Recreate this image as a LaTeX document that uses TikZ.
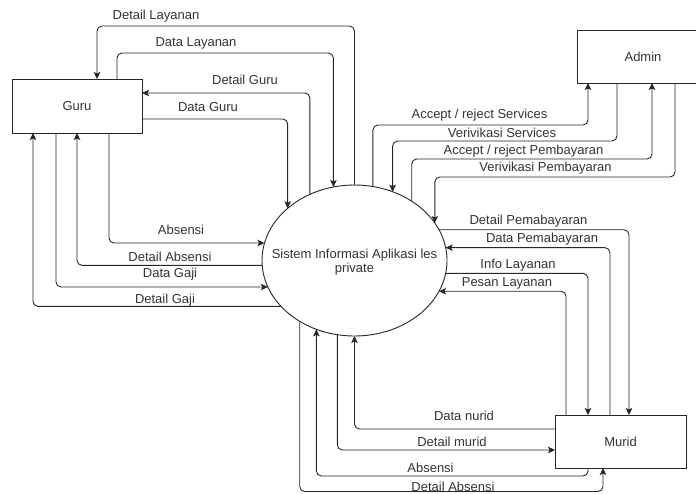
\documentclass[tikz,border=0pt]{standalone}
\usepackage{fontspec}
\setmainfont{Liberation Sans}
\usetikzlibrary{shapes.geometric,arrows.meta}
\definecolor{ink}{HTML}{262626}
\definecolor{txt}{HTML}{333333}
\tikzset{
  box/.style={draw=ink, line width=0.9pt, rectangle, inner sep=0pt, outer sep=0pt, text=txt},
  flow/.style={draw=ink, line width=0.9pt, rounded corners=5pt, -{Stealth[length=7pt,width=6.5pt,inset=1.5pt]}},
  plainflow/.style={draw=ink, line width=0.9pt, rounded corners=5pt},
  lbl/.style={text=txt, inner sep=0pt}
}
\begin{document}
\begin{tikzpicture}[x=1pt,y=-1pt,font=\fontsize{13pt}{14pt}\selectfont]
\fill[white] (0,0) rectangle (696,493);
\useasboundingbox (0,0) rectangle (696,493);
\clip (0,0) rectangle (696,493);

% entities
\node[box, minimum width=130pt, minimum height=54pt] (guru) at (77,106) {Guru};
\node[box, minimum width=132pt, minimum height=53pt] (admin) at (643,56.5) {Admin};
\node[box, minimum width=131pt, minimum height=53pt] (murid) at (620.5,441.5) {Murid};
\node[draw=ink, line width=0.9pt, ellipse, minimum width=185pt, minimum height=151pt, inner sep=0pt, outer sep=0pt] (sys) at (354.5,260.5) {};
\node[lbl, align=center] (systext) at (354.5,262) {Sistem Informasi Aplikasi les\\private};

% Guru flows
\draw[flow] (sys.90) |- (97,26) -- (guru.north -| 97,0);
\draw[flow] (guru.north -| 117,0) |- (sys.106 |- 0,53) -- (sys.106);
\draw[flow] (sys.124) |- (guru.east |- 0,93);
\draw[flow] (guru.east |- 0,119) -| (sys.142);
\draw[flow] (guru.south -| 109,0) |- (sys.169);
\draw[flow] (sys.183) -| (guru.south -| 77,0);
\draw[flow] (guru.south -| 56,0) |- (sys.197);
\draw[flow] (sys.212) -| (guru.south -| 33,0);

% Admin flows
\draw[flow] (sys.76) |- (588,125) -- (admin.south -| 588,0);
\draw[flow] (admin.south -| 617,0) |- (sys.61 |- 0,141) -- (sys.61);
\draw[flow] (sys.46) |- (652,159) -- (admin.south -| 652,0);
\draw[flow] (admin.south -| 675,0) |- (sys.25 |- 0,177) -- (sys.25);

% Murid flows (right)
\draw[flow] (sys.20) -| (murid.north -| 629,0);
\draw[flow] (murid.north -| 610,0) |- (sys.8);
\draw[flow] (sys.352) -| (murid.north -| 588,0);
\draw[flow] (murid.north -| 566,0) |- (sys.340);

% Murid flows (bottom)
\draw[flow] (murid.west |- 0,429) -| (sys.270);
\draw[flow] (sys.257) |- (murid.west |- 0,450);
\draw[flow] (murid.south -| 588,0) |- (sys.241 |- 0,476) -- (sys.241);
\draw[flow] (sys.228) |- (603,491.5) -- (murid.south -| 603,0);

% labels
\node[lbl] (l1) at (156,16) {Detail Layanan};
\node[lbl] (l2) at (196,43) {Data Layanan};
\node[lbl] (l3) at (245,80) {Detail Guru};
\node[lbl] (l4) at (208,107) {Data Guru};
\node[lbl] (l5) at (181,230) {Absensi};
\node[lbl] (l6) at (170,257) {Detail Absensi};
\node[lbl] (l7) at (170,274) {Data Gaji};
\node[lbl] (l8) at (165,300) {Detail Gaji};
\node[lbl] (l9) at (479.5,115) {Accept / reject Services};
\node[lbl] (l10) at (502,133) {Verivikasi Services};
\node[lbl] (l11) at (523.5,151) {Accept / reject Pembayaran};
\node[lbl] (l12) at (545.5,168) {Verivikasi Pembayaran};
\node[lbl] (l13) at (528.5,221) {Detail Pemabayaran};
\node[lbl] (l14) at (542,239) {Data Pemabayaran};
\node[lbl] (l15) at (518,265) {Info Layanan};
\node[lbl] (l16) at (507,283) {Pesan Layanan};
\node[lbl] (l17) at (464,416) {Data nurid};
\node[lbl] (l18) at (452,442) {Detail murid};
\node[lbl] (l19) at (430.5,468) {Absensi};
\node[lbl] (l20) at (453,487) {Detail Absensi};
\end{tikzpicture}
\end{document}
